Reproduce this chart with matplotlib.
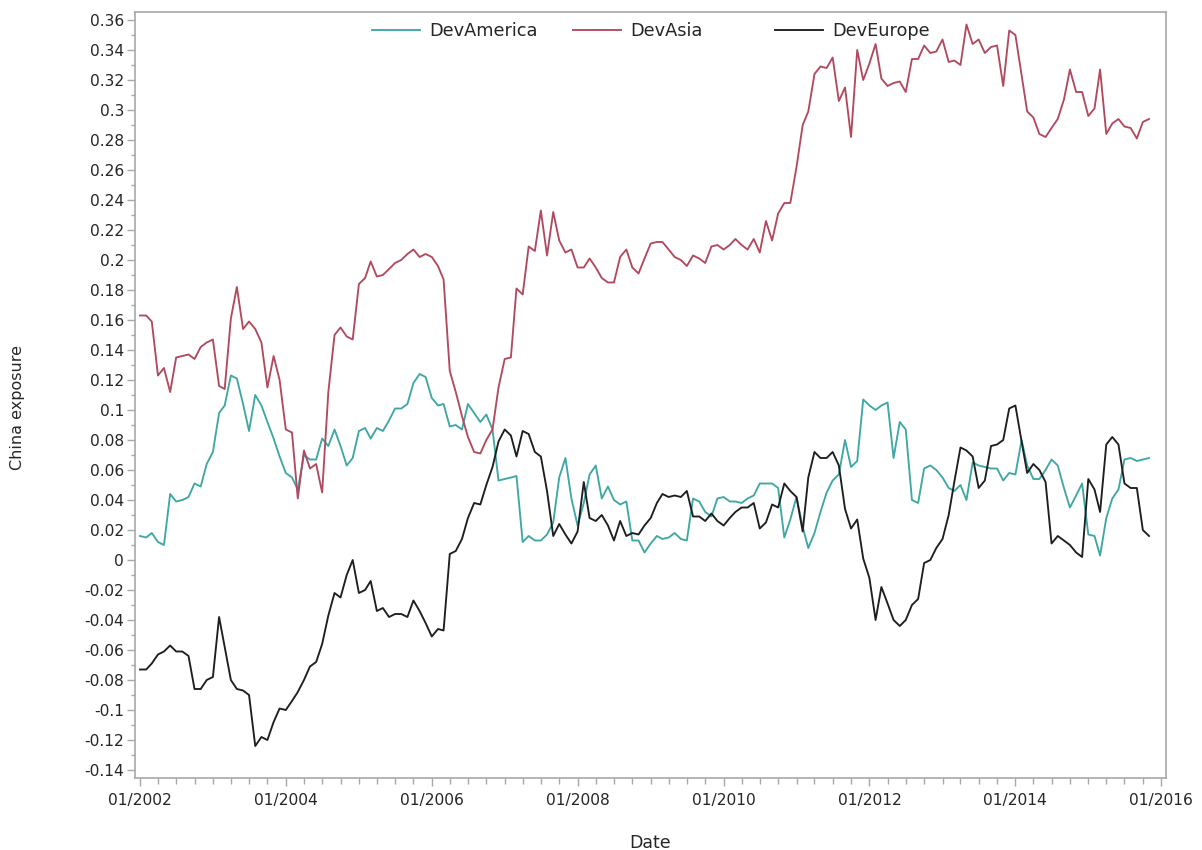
import numpy as np
import pandas as pd
import matplotlib
matplotlib.use("Agg")
import matplotlib.pyplot as plt
import matplotlib.dates as mdates
from matplotlib.ticker import MultipleLocator, FuncFormatter
from matplotlib.legend import Legend

# Monthly China-exposure estimates, 01/2002 - 11/2015
start_month = "2002-01-01"

dev_america = [
    0.016, 0.015, 0.018, 0.012, 0.010, 0.044, 0.039, 0.040, 0.042, 0.051,
    0.049, 0.064, 0.072, 0.098, 0.103, 0.123, 0.121, 0.104, 0.086, 0.110,
    0.103, 0.092, 0.081, 0.069, 0.058, 0.055, 0.047, 0.070, 0.067, 0.067,
    0.081, 0.076, 0.087, 0.076, 0.063, 0.068, 0.086, 0.088, 0.081, 0.088,
    0.086, 0.093, 0.101, 0.101, 0.104, 0.118, 0.124, 0.122, 0.108, 0.103,
    0.104, 0.089, 0.090, 0.087, 0.104, 0.098, 0.092, 0.097, 0.087, 0.053,
    0.054, 0.055, 0.056, 0.012, 0.016, 0.013, 0.013, 0.017, 0.025, 0.055,
    0.068, 0.041, 0.023, 0.038, 0.057, 0.063, 0.041, 0.049, 0.040, 0.037,
    0.039, 0.013, 0.013, 0.005, 0.011, 0.016, 0.014, 0.015, 0.018, 0.014,
    0.013, 0.041, 0.039, 0.032, 0.029, 0.041, 0.042, 0.039, 0.039, 0.038,
    0.041, 0.043, 0.051, 0.051, 0.051, 0.048, 0.015, 0.027, 0.042, 0.022,
    0.008, 0.018, 0.032, 0.045, 0.053, 0.057, 0.080, 0.062, 0.066, 0.107,
    0.103, 0.100, 0.103, 0.105, 0.068, 0.092, 0.087, 0.040, 0.038, 0.061,
    0.063, 0.060, 0.055, 0.048, 0.046, 0.050, 0.040, 0.065, 0.063, 0.062,
    0.061, 0.061, 0.053, 0.058, 0.057, 0.080, 0.063, 0.054, 0.054, 0.060,
    0.067, 0.063, 0.048, 0.035, 0.043, 0.051, 0.017, 0.016, 0.003, 0.028,
    0.041, 0.047, 0.067, 0.068, 0.066, 0.067, 0.068,
]

dev_asia = [
    0.163, 0.163, 0.159, 0.123, 0.128, 0.112, 0.135, 0.136, 0.137, 0.134,
    0.142, 0.145, 0.147, 0.116, 0.114, 0.161, 0.182, 0.154, 0.159, 0.154,
    0.145, 0.115, 0.136, 0.120, 0.087, 0.085, 0.041, 0.073, 0.061, 0.064,
    0.045, 0.112, 0.150, 0.155, 0.149, 0.147, 0.184, 0.188, 0.199, 0.189,
    0.190, 0.194, 0.198, 0.200, 0.204, 0.207, 0.202, 0.204, 0.202, 0.196,
    0.187, 0.126, 0.112, 0.096, 0.082, 0.072, 0.071, 0.080, 0.087, 0.115,
    0.134, 0.135, 0.181, 0.177, 0.209, 0.206, 0.233, 0.203, 0.232, 0.213,
    0.205, 0.207, 0.195, 0.195, 0.201, 0.195, 0.188, 0.185, 0.185, 0.202,
    0.207, 0.195, 0.191, 0.201, 0.211, 0.212, 0.212, 0.207, 0.202, 0.200,
    0.196, 0.203, 0.201, 0.198, 0.209, 0.210, 0.207, 0.210, 0.214, 0.210,
    0.207, 0.214, 0.205, 0.226, 0.213, 0.231, 0.238, 0.238, 0.262, 0.290,
    0.299, 0.324, 0.329, 0.328, 0.335, 0.306, 0.315, 0.282, 0.340, 0.320,
    0.331, 0.344, 0.321, 0.316, 0.318, 0.319, 0.312, 0.334, 0.334, 0.343,
    0.338, 0.339, 0.347, 0.332, 0.333, 0.330, 0.357, 0.344, 0.347, 0.338,
    0.342, 0.343, 0.316, 0.353, 0.350, 0.323, 0.299, 0.295, 0.284, 0.282,
    0.288, 0.294, 0.307, 0.327, 0.312, 0.312, 0.296, 0.301, 0.327, 0.284,
    0.291, 0.294, 0.289, 0.288, 0.281, 0.292, 0.294,
]

dev_europe = [
    -0.073, -0.073, -0.069, -0.063, -0.061, -0.057, -0.061, -0.061, -0.064, -0.086,
    -0.086, -0.080, -0.078, -0.038, -0.058, -0.080, -0.086, -0.087, -0.090, -0.124,
    -0.118, -0.120, -0.108, -0.099, -0.100, -0.094, -0.088, -0.080, -0.071, -0.068,
    -0.056, -0.037, -0.022, -0.025, -0.010, 0.000, -0.022, -0.020, -0.014, -0.034,
    -0.032, -0.038, -0.036, -0.036, -0.038, -0.027, -0.034, -0.042, -0.051, -0.046,
    -0.047, 0.004, 0.006, 0.014, 0.028, 0.038, 0.037, 0.050, 0.062, 0.079,
    0.087, 0.083, 0.069, 0.086, 0.084, 0.072, 0.069, 0.046, 0.016, 0.024,
    0.017, 0.011, 0.019, 0.052, 0.028, 0.026, 0.030, 0.023, 0.013, 0.026,
    0.016, 0.018, 0.017, 0.023, 0.028, 0.038, 0.044, 0.042, 0.043, 0.042,
    0.046, 0.029, 0.029, 0.026, 0.031, 0.026, 0.023, 0.028, 0.032, 0.035,
    0.035, 0.038, 0.021, 0.025, 0.037, 0.035, 0.051, 0.046, 0.042, 0.019,
    0.055, 0.072, 0.068, 0.068, 0.072, 0.063, 0.034, 0.021, 0.027, 0.001,
    -0.012, -0.040, -0.018, -0.029, -0.040, -0.044, -0.040, -0.030, -0.026, -0.002,
    0.000, 0.008, 0.014, 0.030, 0.052, 0.075, 0.073, 0.069, 0.048, 0.053,
    0.076, 0.077, 0.080, 0.101, 0.103, 0.079, 0.058, 0.064, 0.060, 0.052,
    0.011, 0.016, 0.013, 0.010, 0.005, 0.002, 0.054, 0.047, 0.032, 0.077,
    0.082, 0.077, 0.051, 0.048, 0.048, 0.020, 0.016,
]

series_names = ["DevAmerica", "DevAsia", "DevEurope"]
series_colors = ["#3FA7A4", "#B24A5F", "#1E1E1E"]

dates = pd.date_range(start_month, periods=len(dev_asia), freq="MS")

plt.rcParams["font.family"] = ["DejaVu Sans"]
text_color = "#262626"
frame_color = "#A8A8A8"

fig = plt.figure(figsize=(12.02, 8.5), dpi=100)
ax = fig.add_axes([135 / 1202, 1 - 778 / 850, (1166 - 135) / 1202, (778 - 12) / 850])

lines = []
for values, name, color in zip([dev_america, dev_asia, dev_europe], series_names, series_colors):
    ln, = ax.plot(dates, values, color=color, lw=1.35, label=name, solid_joinstyle="round")
    lines.append(ln)

# Axis ranges
ax.set_ylim((560 - 778) / 1500, (560 - 12) / 1500)
ax.set_xlim(pd.Timestamp("2002-01-01") - pd.Timedelta(days=25),
            pd.Timestamp("2016-01-01") + pd.Timedelta(days=24))

# Y ticks: every 0.02, minor halfway
ax.yaxis.set_major_locator(MultipleLocator(0.02))
ax.yaxis.set_minor_locator(MultipleLocator(0.01))


def fmt_y(v, pos):
    v = round(v, 2)
    if abs(v) < 1e-9:
        return "0"
    return f"{v:.2f}".rstrip("0").rstrip(".")


ax.yaxis.set_major_formatter(FuncFormatter(fmt_y))

# X ticks: labelled every two years, quarterly minor marks
ax.xaxis.set_major_locator(mdates.YearLocator(2, month=1, day=1))
ax.xaxis.set_major_formatter(mdates.DateFormatter("%m/%Y"))
ax.xaxis.set_minor_locator(mdates.MonthLocator(bymonth=[1, 4, 7, 10]))

ax.tick_params(axis="both", which="major", direction="out", length=6, width=1,
               color=frame_color, labelcolor=text_color, labelsize=11.2)
ax.tick_params(axis="both", which="minor", direction="out", length=4, width=1,
               color=frame_color)
ax.tick_params(axis="y", which="major", pad=2)
ax.tick_params(axis="x", which="major", pad=5)
ax.tick_params(axis="y", which="minor", length=3)

for sp in ax.spines.values():
    sp.set_color(frame_color)
    sp.set_linewidth(1.2)

ax.set_ylabel("China exposure", fontsize=11.5, color=text_color)
ax.yaxis.label.set_rotation_mode("default")
ax.yaxis.label.set_va("center")
ax.yaxis.label.set_ha("center")
ax.yaxis.set_label_coords((18 - 135) / 1031, (778 - 408) / 766)

ax.set_xlabel("Date", fontsize=12.5, color=text_color)
ax.xaxis.label.set_va("center")
ax.xaxis.set_label_coords(0.5, (778 - 843) / 766)

# Legend: three evenly spaced entries along the top of the frame
legend_x = [(372 - 135) / 1031, (573 - 135) / 1031, (775 - 135) / 1031]
for ln, lab, lx in zip(lines, series_names, legend_x):
    leg = Legend(ax, [ln], [lab], loc="center left", bbox_to_anchor=(lx, (778 - 31) / 766),
                 frameon=False, fontsize=12.8, handlelength=2.7, handletextpad=0.5,
                 borderpad=0, borderaxespad=0, labelcolor=text_color)
    ax.add_artist(leg)

fig.savefig("out.png", dpi=100, facecolor="white")
